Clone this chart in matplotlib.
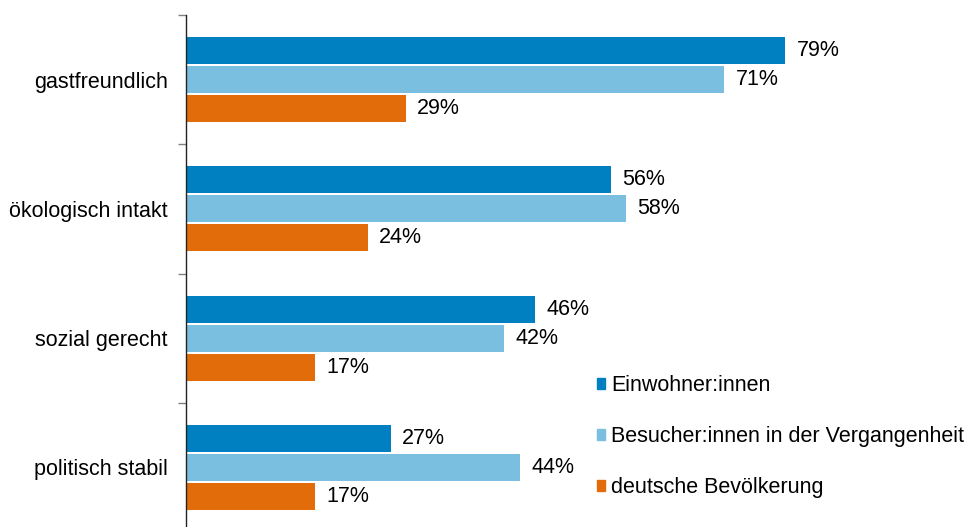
import matplotlib
matplotlib.use('Agg')
import matplotlib.pyplot as plt
import matplotlib.patches as mpatches
import numpy as np

plt.rcParams['font.family'] = ['Liberation Sans', 'DejaVu Sans']

categories = ["gastfreundlich", "ökologisch intakt", "sozial gerecht", "politisch stabil"]
series_names = ["Einwohner:innen", "Besucher:innen in der Vergangenheit", "deutsche Bevölkerung"]
einwohner = [79, 56, 46, 27]
besucher = [71, 58, 42, 44]
deutsche = [29, 24, 17, 17]
colors = ["#0080C0", "#7ABFE0", "#E36C0A"]

FS = 15.5

fig = plt.figure(figsize=(9.67, 5.27), dpi=100)
# axes spans from the spine at x=186px to the right edge, top tick at y=15px
ax = fig.add_axes([186 / 967, 1 - 532 / 527, 1 - 186 / 967, (532 - 15) / 527])

y = np.arange(len(categories))
bar_h = 0.209
step = 0.224
for i, (vals, col) in enumerate(zip([einwohner, besucher, deutsche], colors)):
    pos = y + (i - 1) * step
    ax.barh(pos, vals, height=bar_h, color=col, edgecolor='none')
    for p, v in zip(pos, vals):
        ax.text(v + 1.5, p, f"{v}%", va='center', ha='left', fontsize=FS, color='black')

ax.set_xlim(0, 103)
ax.set_ylim(len(categories) - 0.5, -0.5)

ax.set_yticks(y)
ax.set_yticklabels(categories, fontsize=FS)
ax.tick_params(axis='y', which='major', length=0, pad=13)
ax.set_yticks(np.arange(-0.5, len(categories), 1), minor=True)
ax.tick_params(axis='y', which='minor', length=6, width=1, color='#808080', direction='out')
ax.set_xticks([])

for s in ['top', 'right', 'bottom']:
    ax.spines[s].set_visible(False)
ax.spines['left'].set_color('#222222')
ax.spines['left'].set_linewidth(1)

handles = [mpatches.Patch(color=c, label=n) for c, n in zip(colors, series_names)]
fig.legend(handles=handles, loc='upper left', bbox_to_anchor=(597 / 967, 1 - 375 / 527),
           frameon=False, fontsize=FS, handlelength=0.37, handleheight=0.37,
           handletextpad=0.28, labelspacing=1.4, borderpad=0, borderaxespad=0)

plt.savefig('out.png', dpi=100, facecolor='white')
plt.close()
